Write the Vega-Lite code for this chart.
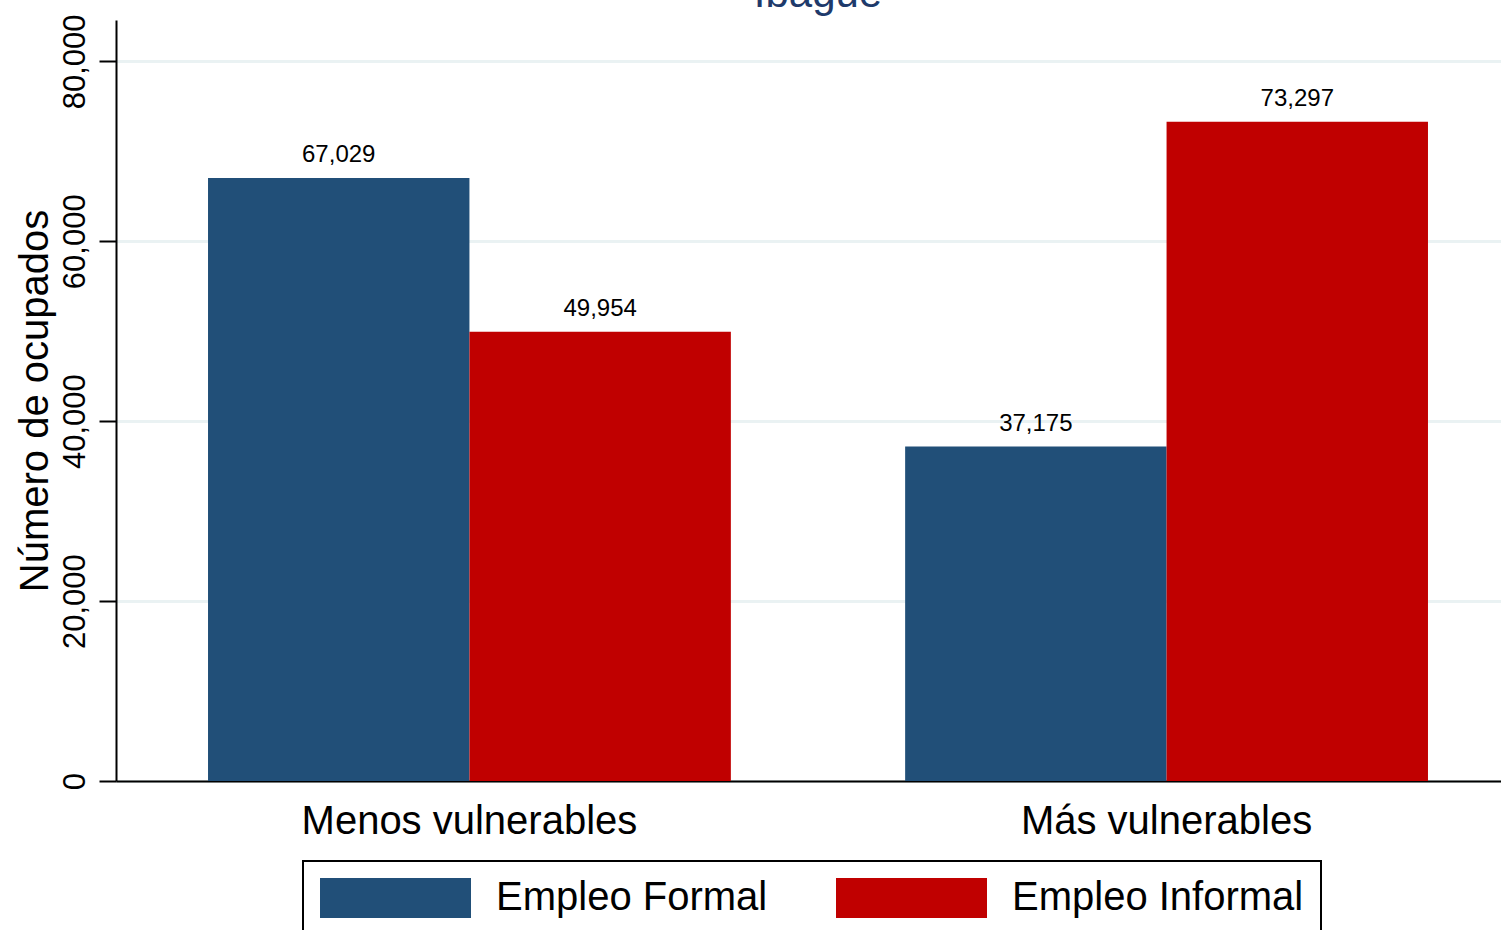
{
  "$schema": "https://vega.github.io/schema/vega-lite/v6.json",
  "autosize": {"type": "none"},
  "padding": {"left": 116, "top": 20, "right": 0, "bottom": 160},
  "width": 1404,
  "height": 761,
  "background": "white",
  "title": {"text": "Ibagué", "orient": "top", "fontSize": 42, "font": "Liberation Sans", "fontWeight": "normal", "color": "#1e3a6b", "frame": "group", "anchor": "middle", "baseline": "alphabetic", "offset": -35},
  "data": {"values": [
    {"grupo": "Menos vulnerables", "tipo": "Empleo Formal", "valor": 67029},
    {"grupo": "Menos vulnerables", "tipo": "Empleo Informal", "valor": 49954},
    {"grupo": "Más vulnerables", "tipo": "Empleo Formal", "valor": 37175},
    {"grupo": "Más vulnerables", "tipo": "Empleo Informal", "valor": 73297}
  ]},
  "encoding": {
    "x": {"field": "grupo", "type": "nominal", "sort": ["Menos vulnerables", "Más vulnerables"], "title": null,
      "scale": {"paddingInner": 0.25, "paddingOuter": 0.132},
      "axis": {"labelAngle": 0, "labelFontSize": 40, "labelFont": "Liberation Sans", "labelColor": "black", "labelPadding": 20, "ticks": false, "domainColor": "black", "domainWidth": 2, "labelLimit": 0}},
    "xOffset": {"field": "tipo", "type": "nominal", "sort": ["Empleo Formal", "Empleo Informal"], "scale": {"paddingInner": 0, "paddingOuter": 0}},
    "y": {"field": "valor", "type": "quantitative", "title": "Número de ocupados",
      "scale": {"domain": [0, 84600], "nice": false, "zero": true},
      "axis": {"values": [0, 20000, 40000, 60000, 80000], "format": ",d", "labelAngle": -90, "labelAlign": "center", "labelBaseline": "alphabetic", "labelPadding": 15, "labelFontSize": 31, "labelFont": "Liberation Sans", "labelColor": "black", "tickSize": 17, "tickWidth": 2, "tickColor": "black", "domainColor": "black", "domainWidth": 2, "grid": true, "gridColor": "#eaf2f3", "gridWidth": 3, "titleFontSize": 40, "titleFont": "Liberation Sans", "titleFontWeight": "normal", "titleColor": "black", "titlePadding": 4}}
  },
  "layer": [
    {"mark": {"type": "bar"},
     "encoding": {"color": {"field": "tipo", "type": "nominal",
       "scale": {"domain": ["Empleo Formal", "Empleo Informal"], "range": ["#214f78", "#c00000"]},
       "legend": {"title": null, "orient": "none", "legendX": 187, "legendY": 841, "direction": "horizontal", "columns": 2,
         "symbolType": "M-1,-1H6.55V1H-1Z", "symbolSize": 1600, "symbolStrokeWidth": 0, "symbolOpacity": 1,
         "labelFontSize": 40, "labelFont": "Liberation Sans", "labelColor": "black", "labelOffset": 136, "labelLimit": 0,
         "columnPadding": 68, "padding": 17, "strokeColor": "black", "fillColor": "white"}}}},
    {"mark": {"type": "text", "fontSize": 24, "font": "Liberation Sans", "baseline": "alphabetic", "dy": -16, "color": "black"},
     "encoding": {"text": {"field": "valor", "type": "quantitative", "format": ",d"}}}
  ],
  "config": {"view": {"stroke": null}, "legend": {"strokeWidth": 2}}
}
